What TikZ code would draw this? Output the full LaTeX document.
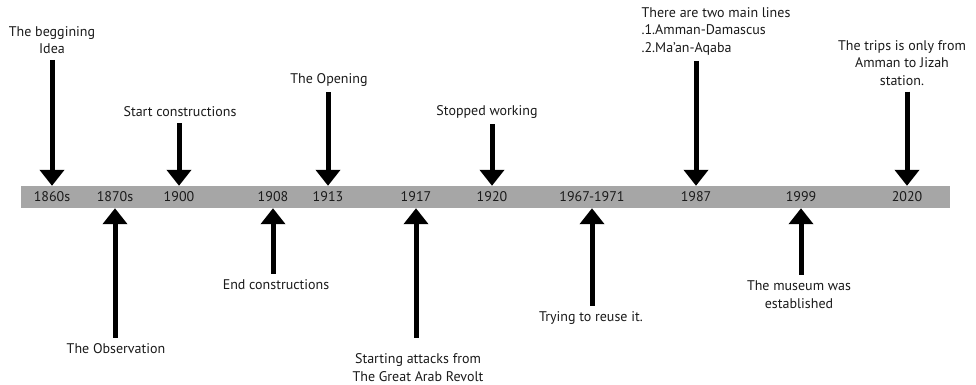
\documentclass[tikz,border=0pt]{standalone}
\usepackage{fontspec}
\setmainfont{PT Sans}
\usetikzlibrary{arrows.meta, positioning}
\definecolor{bargray}{HTML}{A6A6A6}
\definecolor{inkgray}{HTML}{1A1A1A}
\tikzstyle{bar} = [rectangle, fill=bargray, minimum width=929pt, minimum height=22pt, inner sep=0]
\tikzstyle{year} = [rectangle, minimum height=22pt, inner sep=0, text=inkgray, font=\fontsize{14}{16}\selectfont]
\tikzstyle{event} = [align=center, inner sep=2pt, outer sep=4pt, text=inkgray, font=\fontsize{14}{17.5}\selectfont]
\tikzstyle{arrow} = [line width=5pt, -{Triangle[width=24pt,length=16pt]}]
\begin{document}
\begin{tikzpicture}[x=1pt, y=-1pt]
\useasboundingbox (0,0) rectangle (976,384);

\node (bar) [bar] at (485.5,197) {};

\node (y1860) [year] at (52,197) {1860s};
\node (y1870) [year] at (115,197) {1870s};
\node (y1900) [year] at (179,197) {1900};
\node (y1908) [year] at (273,197) {1908};
\node (y1913) [year] at (328,197) {1913};
\node (y1917) [year] at (416,197) {1917};
\node (y1920) [year] at (492,197) {1920};
\node (y1967) [year] at (592,197) {1967-1971};
\node (y1987) [year] at (696,197) {1987};
\node (y1999) [year] at (801,197) {1999};
\node (y2020) [year] at (907,197) {2020};

\node (e1860) [event] at (52,40) {The beggining\\Idea};
\node (e1870) [event] at (116,349) {The Observation};
\node (e1900) [event] at (180,112) {Start constructions};
\node (e1908) [event] at (276,285) {End constructions};
\node (e1913) [event] at (329,80) {The Opening};
\node (e1917) [event] at (418,367.5) {Starting attacks from\\The Great Arab Revolt};
\node (e1920) [event] at (487,112) {Stopped working};
\node (e1967) [event] at (591,318) {Trying to reuse it.};
\node (e1987) [event, align=left] at (716,31) {There are two main lines\\.1.Amman-Damascus\\.2.Ma’an-Aqaba};
\node (e1999) [event] at (799,294.5) {The museum was\\established};
\node (e2020) [event] at (902,63) {The trips is only from\\Amman to Jizah\\station.};

\draw [arrow] (e1860.south -| y1860) -- (y1860.north);
\draw [arrow] (e1900.south -| y1900) -- (y1900.north);
\draw [arrow] (e1913.south -| y1913) -- (y1913.north);
\draw [arrow] (e1920.south -| y1920) -- (y1920.north);
\draw [arrow] (e1987.south -| y1987) -- (y1987.north);
\draw [arrow] (e2020.south -| y2020) -- (y2020.north);
\draw [arrow] (e1870.north -| y1870) -- (y1870.south);
\draw [arrow] (e1908.north -| y1908) -- (y1908.south);
\draw [arrow, shorten <=10pt] (e1917.north -| y1917) -- (y1917.south);
\draw [arrow] (e1967.north -| y1967) -- (y1967.south);
\draw [arrow] (e1999.north -| y1999) -- (y1999.south);

\end{tikzpicture}
\end{document}
